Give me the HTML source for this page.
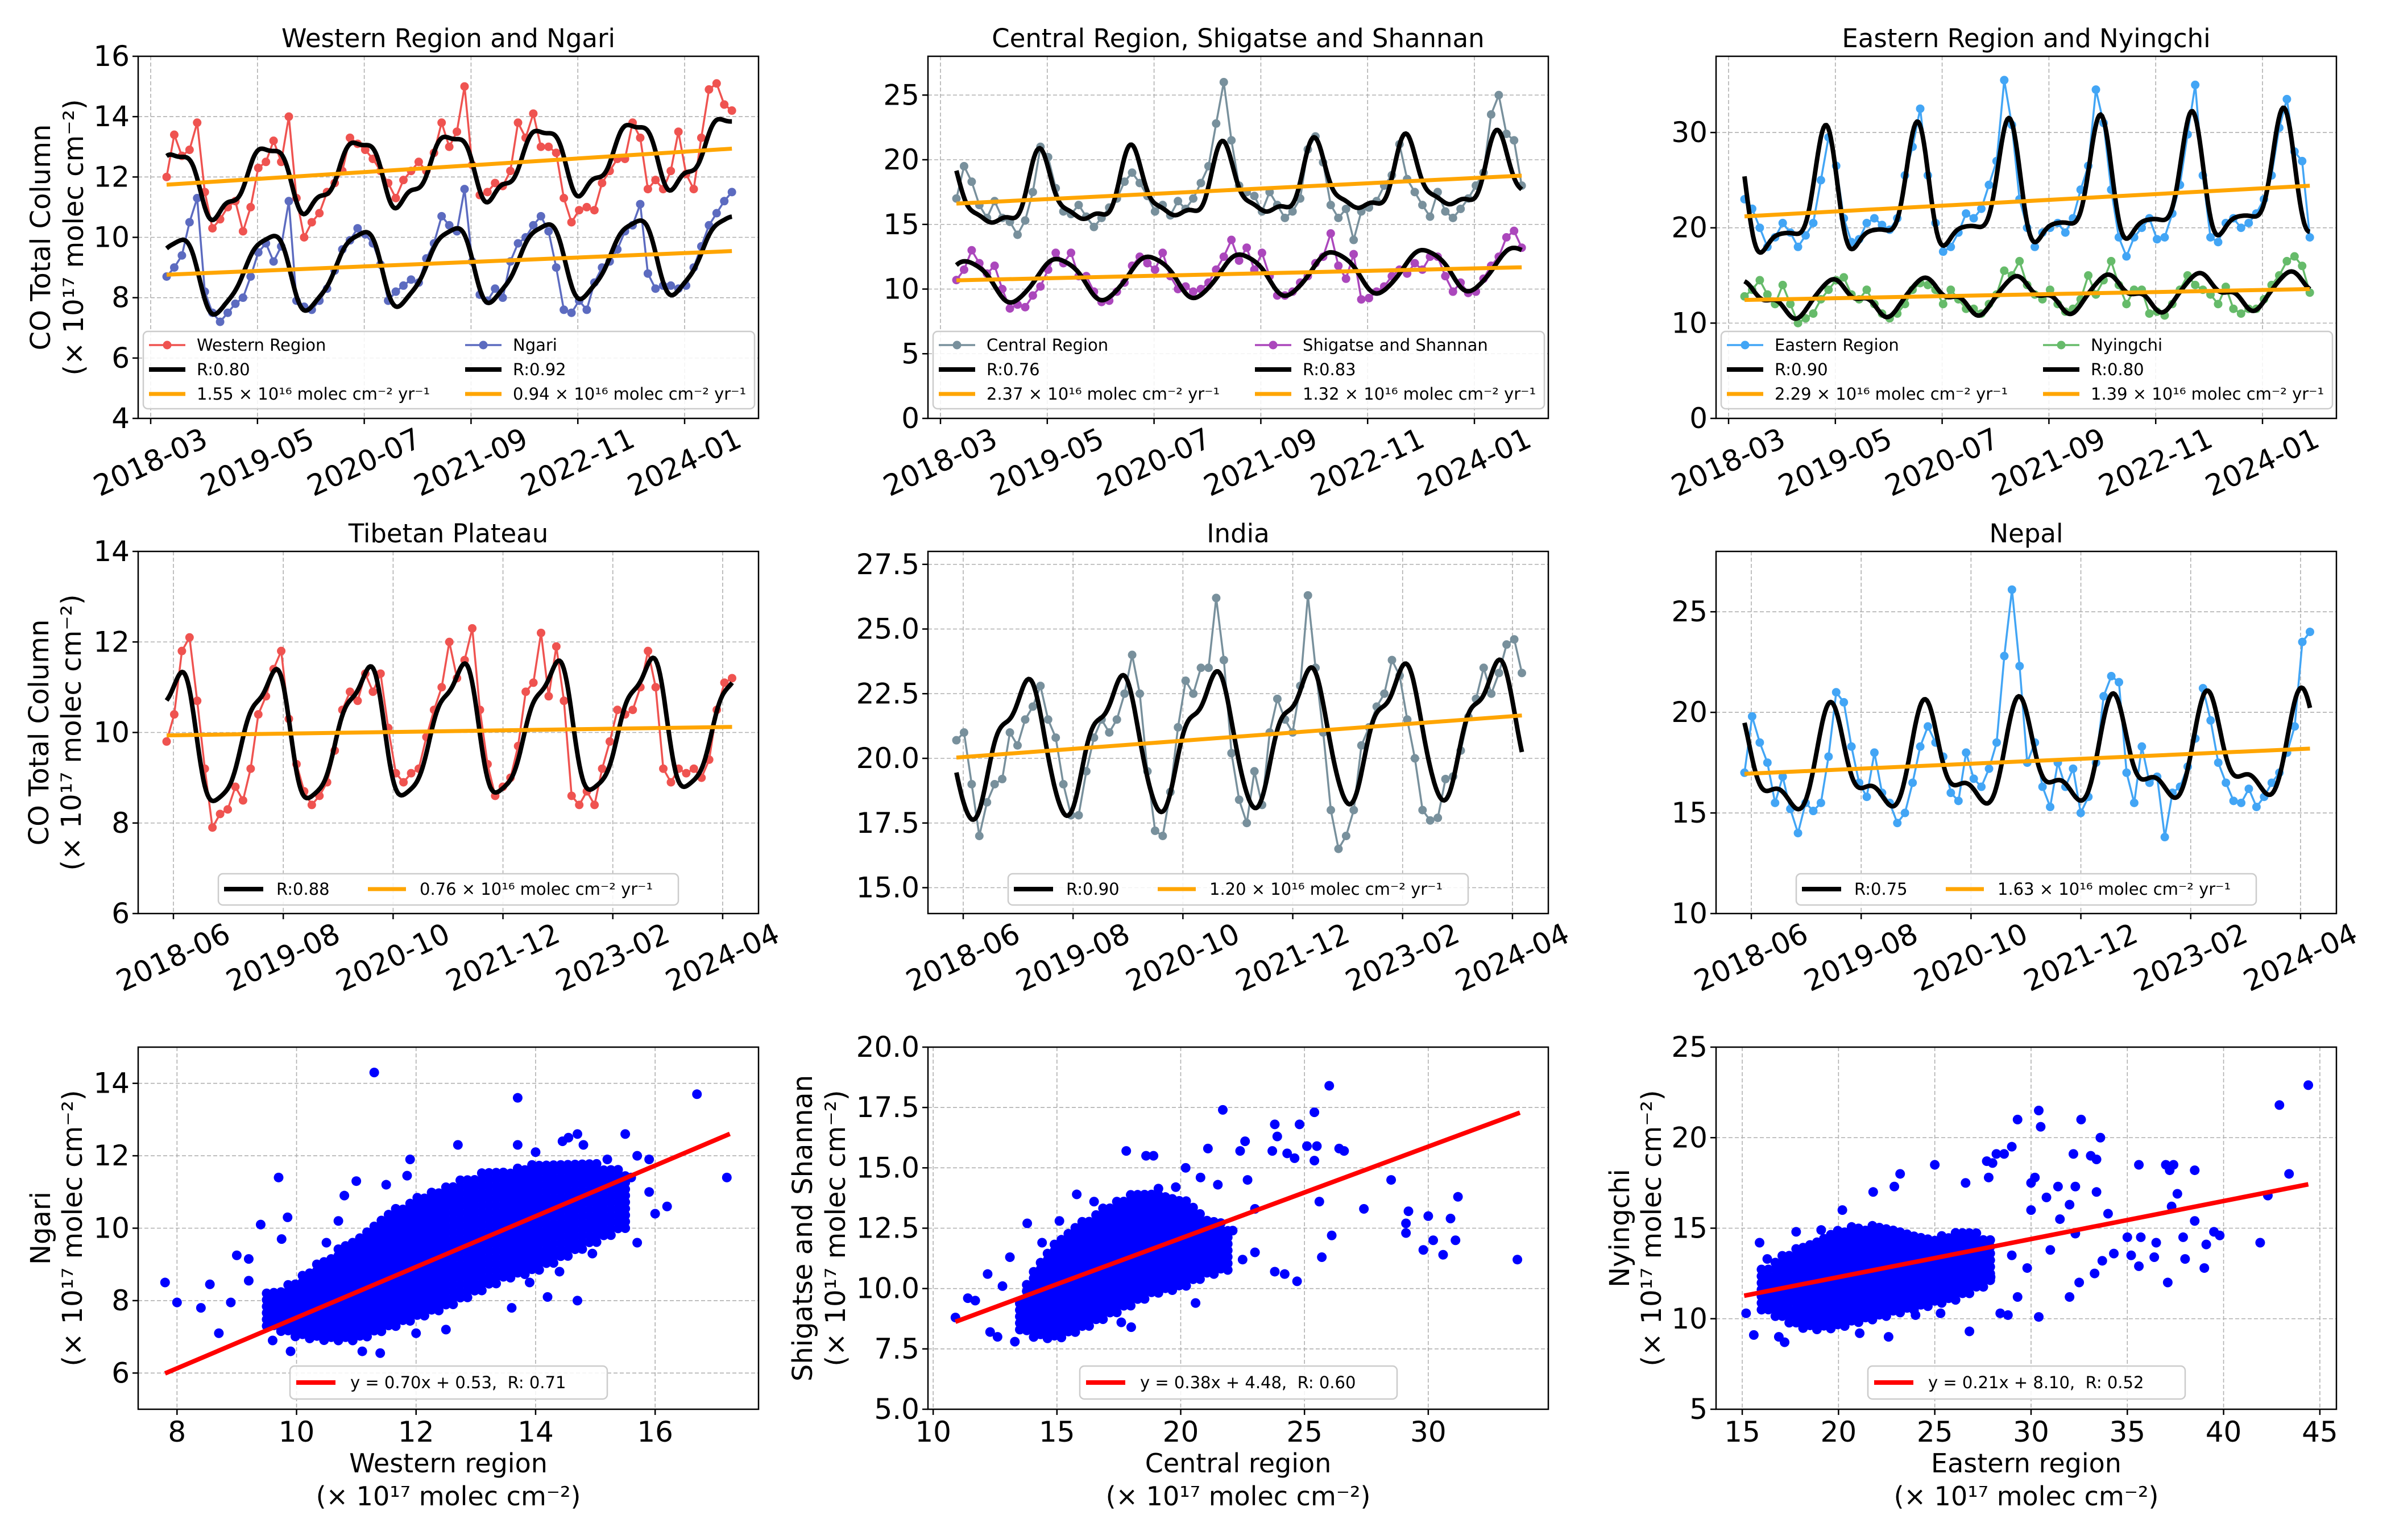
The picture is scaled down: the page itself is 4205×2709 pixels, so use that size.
<!DOCTYPE html>
<html>
<head>
<meta charset="utf-8">
<style>
html,body{margin:0;padding:0;background:#fff;}
svg{display:block;font-family:"DejaVu Sans","Liberation Sans",sans-serif;}
</style>
</head>
<body>
<svg id="chart" xmlns="http://www.w3.org/2000/svg" width="4205" height="2709" viewBox="0 0 4205 2709">
<rect x="0" y="0" width="4205" height="2709" fill="#ffffff"/>
</svg>
<script>
// ---------- DATA (monthly, May 2018 onward) ----------
const westernRegion = [12.0,13.4,12.7,12.9,13.8,11.5,10.3,10.6,
 11.0,11.2,10.2,11.0,12.3,12.5,13.2,12.5,14.0,11.3,10.0,10.5,
 10.8,11.5,11.8,12.2,13.3,13.1,12.9,12.6,12.2,11.8,11.3,11.9,
 12.2,12.5,12.2,12.8,13.8,13.0,13.5,15.0,12.4,11.4,11.5,11.8,
 11.7,12.2,13.8,13.3,14.1,13.0,13.0,12.8,11.3,10.5,10.9,11.0,
 10.9,11.8,12.2,12.6,12.6,13.8,13.3,11.6,11.9,11.6,12.2,13.5,
 12.1,11.6,13.3,14.9,15.1,14.4,14.2];
const ngari = [8.7,9.0,9.4,10.5,11.3,8.2,7.5,7.2,
 7.5,7.8,8.0,8.7,9.5,9.8,9.2,9.7,11.2,7.9,7.7,7.6,
 7.9,8.3,8.9,9.6,9.9,10.3,10.1,9.8,9.1,7.9,8.2,8.4,
 8.6,8.5,9.3,9.8,10.7,10.4,10.2,11.6,9.2,8.1,7.9,8.3,
 8.0,9.2,9.8,10.0,10.4,10.7,10.2,9.0,7.6,7.5,7.9,7.6,
 8.5,9.0,9.2,9.6,10.2,10.4,11.1,8.8,8.3,8.4,8.4,8.3,
 8.4,9.0,9.7,10.4,10.8,11.2,11.5];
const centralRegion = [17.0,19.5,18.3,16.5,15.5,16.8,15.5,15.2,
 14.2,15.3,17.5,21.0,20.2,17.8,16.0,15.8,16.5,15.6,14.8,15.5,
 16.3,17.0,18.3,19.0,18.2,17.2,16.0,16.5,15.7,16.8,16.2,17.0,
 18.2,19.5,22.8,26.0,21.5,18.0,17.5,17.2,16.0,17.5,16.5,15.5,
 16.0,17.0,20.8,21.8,19.8,16.5,15.5,16.2,13.8,16.0,16.3,16.8,
 18.0,18.8,21.2,18.5,17.5,16.5,15.6,17.5,16.0,15.5,16.2,17.0,
 18.0,19.0,23.5,25.0,22.0,21.5,18.0];
const shigatseShannan = [10.7,11.5,13.0,12.0,11.2,11.8,10.0,8.5,
 8.8,8.6,9.5,10.2,11.5,12.8,12.0,12.8,11.0,11.0,9.8,9.0,
 9.1,9.8,10.5,11.8,12.5,12.0,11.5,12.8,11.0,10.0,10.2,9.8,
 10.0,10.5,11.5,12.5,13.8,12.2,13.2,11.5,12.8,11.0,9.5,9.5,
 9.8,10.5,11.0,12.0,12.5,14.3,11.8,10.8,12.7,9.2,9.3,9.8,
 10.2,11.0,11.5,11.2,12.0,11.5,12.5,12.5,11.0,9.8,10.5,9.7,
 9.8,10.8,11.8,12.5,14.0,14.5,13.2];
const easternRegion = [23.0,22.0,20.0,18.0,19.0,20.5,19.5,18.0,
 19.2,20.5,25.0,29.5,26.5,21.0,18.5,18.8,20.5,21.0,20.3,19.8,
 21.0,25.5,28.5,32.5,25.5,20.5,17.5,18.0,19.5,21.5,21.0,22.0,
 24.5,27.0,35.5,30.8,23.0,20.0,18.0,19.5,20.0,20.5,19.5,21.0,
 24.0,26.5,34.5,31.0,24.0,19.0,17.0,19.0,20.0,21.0,18.8,19.0,
 21.5,24.5,29.8,35.0,25.5,19.0,18.5,20.5,21.0,20.0,20.5,21.5,
 23.0,25.5,30.5,33.5,28.0,27.0,19.0];
const nyingchi = [12.8,13.5,14.5,13.0,12.0,14.0,12.0,10.0,
 10.5,11.0,12.5,13.5,14.5,14.8,13.0,12.5,13.5,12.0,11.0,10.5,
 11.0,12.0,13.5,14.2,14.0,13.5,12.0,13.5,12.5,11.5,11.5,11.0,
 12.0,13.0,15.5,15.0,16.5,14.0,13.0,12.5,13.5,12.0,11.2,11.5,
 12.5,15.0,13.0,14.5,16.5,14.0,12.0,13.5,13.5,11.0,11.2,10.8,
 12.0,13.5,15.0,14.0,13.5,13.0,12.0,13.8,11.5,11.0,11.5,11.5,
 12.5,14.0,15.0,16.5,17.0,16.0,13.2];
const tibetanPlateau = [9.8,10.4,11.8,12.1,10.7,9.2,7.9,8.2,
 8.3,8.8,8.5,9.2,10.4,10.8,11.4,11.8,10.3,9.3,8.7,8.4,
 8.6,8.9,9.6,10.5,10.9,10.7,11.3,10.9,11.3,10.1,9.1,8.9,
 9.1,9.2,9.9,10.5,11.0,12.0,11.2,11.6,12.3,10.5,9.3,8.6,
 8.8,9.0,9.7,10.9,11.1,12.2,10.8,11.9,10.7,8.6,8.4,8.7,
 8.4,9.2,9.8,10.5,10.4,10.5,11.0,11.8,11.0,9.2,8.9,9.2,
 9.1,9.2,9.0,9.4,10.5,11.1,11.2];
const india = [20.7,21.0,19.0,17.0,18.3,19.0,19.2,21.0,
 20.5,21.5,22.0,22.8,21.5,20.8,19.0,17.8,17.8,19.5,20.8,21.5,
 21.0,21.5,22.5,24.0,22.5,19.5,17.2,17.0,18.7,21.2,23.0,22.5,
 23.5,23.5,26.2,23.8,20.2,18.4,17.5,19.5,18.2,21.0,22.3,21.5,
 21.0,22.8,26.3,23.5,21.0,18.0,16.5,17.0,18.0,20.5,21.2,22.0,
 22.5,23.8,23.2,21.5,20.0,18.0,17.6,17.7,19.2,19.3,20.3,21.6,
 22.3,23.5,22.5,23.3,24.4,24.6,23.3];
const nepal = [17.0,19.8,18.5,17.5,15.5,16.8,15.2,14.0,
 15.5,15.1,15.5,17.8,21.0,20.5,18.3,16.5,15.8,18.0,16.0,15.5,
 14.5,15.0,16.5,18.3,19.3,18.5,17.8,16.0,15.6,18.0,16.7,16.3,
 17.2,18.5,22.8,26.1,22.3,17.5,18.5,16.3,15.3,17.5,16.3,17.2,
 15.0,15.8,17.5,20.8,21.8,21.5,17.0,15.5,18.3,16.5,16.8,13.8,
 16.0,16.3,17.3,18.7,21.2,19.6,17.5,16.5,15.6,15.5,16.2,15.3,
 15.8,16.5,17.0,18.0,19.3,23.5,24.0];

// tick labels
const row1DateLabels = ['2018-03','2019-05','2020-07','2021-09','2022-11','2024-01'];
const row1DateMonths = [2,16,30,44,58,72];
const row2DateLabels = ['2018-06','2019-08','2020-10','2021-12','2023-02','2024-04'];
const row2DateMonths = [5,19,33,47,61,75];

// scatter data: dense-core bands + individual points
const westBandX  = [9.5,10,10.5,11,11.5,12,12.5,13,13.5,14,14.5,15,15.5];
const westBandLo = [7.3,7.0,6.9,6.9,7.2,7.5,7.8,8.2,8.6,8.8,9.2,9.6,10.0];
const westBandHi = [8.2,8.6,9.2,9.8,10.4,10.9,11.2,11.5,11.6,11.8,11.9,11.8,11.6];
const westPtsX = [11.3,13.7,16.7,17.2,7.8,8.0,8.4,8.55,8.7,8.9,9.0,9.2,9.2,9.4,9.7,9.75,9.85,9.6,9.9,11.0,11.5,10.8,11.9,11.85,12.7,13.7,14.0,14.45,14.55,14.7,14.8,15.5,15.7,15.9,16.2,16.0,15.7,14.95,14.7,14.2,13.6,12.5,12.0,11.4,11.1,13.9,14.4,15.9,15.6,15.2,14.9,10.5,10.7];
const westPtsY = [14.3,13.6,13.7,11.4,8.5,7.95,7.8,8.45,7.1,7.95,9.25,9.15,8.55,10.1,11.4,9.7,10.3,6.9,6.6,11.3,11.2,10.9,11.9,11.45,12.3,12.3,12.1,12.4,12.5,12.6,12.3,12.6,12.0,11.9,10.6,10.4,9.6,9.3,8.0,8.1,7.8,7.2,7.1,6.55,6.6,8.5,8.8,11.0,11.4,11.9,11.7,9.6,10.2];
const centBandX  = [13.5,14,15,16,17,18,19,20,21,22];
const centBandLo = [8.3,8.0,7.9,8.3,8.8,9.3,9.8,10.0,10.5,10.8];
const centBandHi = [9.5,10.8,12.0,12.8,13.5,14.0,14.2,13.8,13.0,12.6];
const centPtsX = [26.0,21.7,25.4,23.8,24.8,23.9,22.6,26.4,26.6,25.1,25.5,21.1,17.8,18.6,18.9,22.4,24.3,23.7,24.6,25.4,28.5,27.4,29.2,30.0,29.1,29.1,30.2,29.8,30.6,31.1,30.9,31.2,33.6,26.1,25.7,25.6,24.7,24.2,23.8,20.6,18.0,17.6,13.8,15.1,14.4,13.1,12.2,12.8,11.4,11.7,10.9,12.3,12.6,13.3,15.8,16.5,17.0,20.5,22.5,23.0,21.6,22.1,23.0,21.5,22.7,19.8,20.2,20.8];
const centPtsY = [18.4,17.4,17.3,16.8,16.8,16.3,16.1,15.8,15.7,15.9,15.9,15.8,15.7,15.5,15.5,15.7,15.6,15.7,15.4,15.3,14.5,13.3,13.2,13.0,12.7,12.3,12.0,11.6,11.4,12.0,12.9,13.8,11.2,12.2,11.3,13.6,10.3,10.6,10.7,9.4,8.4,8.6,12.7,12.8,11.9,11.3,10.6,10.1,9.6,9.5,8.8,8.2,8.0,7.8,13.9,13.6,12.9,12.2,11.2,11.5,11.5,12.4,13.3,14.3,14.5,14.2,15.0,14.6];
const eastBandX  = [16,17,18,19,20,21,22,23,24,25,26,27,28];
const eastBandLo = [10.5,10.0,9.5,9.4,9.5,9.8,10.0,10.3,10.5,10.8,11.0,11.5,12.0];
const eastBandHi = [12.8,13.5,14.0,14.5,15.0,15.2,15.2,15.0,14.8,14.5,14.8,14.8,14.5];
const eastPtsX = [44.4,42.9,43.4,42.3,41.9,39.1,39.0,38.0,38.5,37.0,37.4,37.2,37.9,39.5,39.8,38.5,37.3,37.6,36.5,35.7,35.2,35.6,37.1,35.6,34.0,33.6,32.6,30.4,30.5,29.3,33.4,33.1,32.2,29.0,28.6,28.2,27.7,25.0,23.2,22.9,21.8,28.0,26.6,27.8,30.2,30.0,32.3,31.4,33.4,30.8,32.0,30.0,31.5,32.3,33.7,33.3,32.5,32.0,30.4,29.3,28.8,28.4,26.8,25.3,24.0,22.6,21.1,17.2,16.9,15.6,15.2,15.9,17.8,19.1,20.2,16.3,26.6,27.9,29.0,29.8,31.0,34.3,35.0,36.4];
const eastPtsY = [22.9,21.8,18.0,16.8,14.2,14.1,12.8,13.3,18.2,18.5,18.5,18.2,14.5,14.8,14.6,15.4,16.2,16.9,14.2,14.5,13.5,12.9,12.0,18.5,15.8,20.0,21.0,21.5,20.6,21.0,18.8,19.0,19.1,19.5,19.1,19.1,18.7,18.5,18.0,17.3,17.0,18.6,17.5,17.8,17.8,17.5,17.3,17.3,17.0,16.7,16.3,16.0,15.5,14.7,13.2,12.5,12.0,11.2,10.1,11.2,10.2,10.3,9.3,10.3,10.2,9.0,9.2,8.7,9.0,9.1,10.3,14.2,14.8,14.9,16.0,13.3,11.8,12.3,13.5,12.8,13.8,13.6,14.5,13.4];
const scatterSlopes = [0.70,0.38,0.21];
const scatterIntercepts = [0.53,4.48,8.10];

// ---------- helpers ----------
const NS='http://www.w3.org/2000/svg';
const svg=document.getElementById('chart');
function mk(tag, attrs, parent, name, inter){
  const el=document.createElementNS(NS,tag);
  for(const k in attrs) el.setAttribute(k,attrs[k]);
  
  
  parent.appendChild(el);
  return el;
}
function txt(parent,x,y,s,size,name,extra){
  const a={x:x,y:y,'font-size':size,fill:'#000'};
  if(extra) for(const k in extra) a[k]=extra[k];
  const t=mk('text',a,parent,name,false);
  t.textContent=s;
  return t;
}
const W=1091, H=637;
function makeAxes(left,top,xmin,xmax,ymin,ymax,name){
  const g=mk('g',{},svg,name,false);
  return {g:g,left:left,top:top,
    x:v=>left+(v-xmin)/(xmax-xmin)*W,
    y:v=>top+H-(v-ymin)/(ymax-ymin)*H};
}
function gridAndTicks(ax,xt,xl,yt,yl,rotate){
  const gg=mk('g',{},ax.g,'grid',false);
  xt.forEach(v=>{const x=ax.x(v);
    mk('line',{x1:x,x2:x,y1:ax.top,y2:ax.top+H,stroke:'#b0b0b0','stroke-width':1.6,'stroke-dasharray':'7,4'},gg,'x-gridline',false);});
  yt.forEach(v=>{const y=ax.y(v);
    mk('line',{x1:ax.left,x2:ax.left+W,y1:y,y2:y,stroke:'#b0b0b0','stroke-width':1.6,'stroke-dasharray':'7,4'},gg,'y-gridline',false);});
  const tg=mk('g',{},ax.g,'ticks',false);
  xt.forEach((v,i)=>{const x=ax.x(v), b=ax.top+H;
    mk('line',{x1:x,x2:x,y1:b,y2:b+10,stroke:'#000','stroke-width':2.5},tg,'x-tick',false);
    if(rotate){
      txt(tg,x,b+78,xl[i],51,'x-tick-label',{'text-anchor':'middle','dominant-baseline':'central',transform:'rotate(-25 '+x+' '+(b+78)+')'});
    } else {
      txt(tg,x,b+40,xl[i],50,'x-tick-label',{'text-anchor':'middle','dominant-baseline':'central'});
    }});
  yt.forEach((v,i)=>{const y=ax.y(v);
    mk('line',{x1:ax.left-10,x2:ax.left,y1:y,y2:y,stroke:'#000','stroke-width':2.5},tg,'y-tick',false);
    txt(tg,ax.left-15,y,yl[i],50,'y-tick-label',{'text-anchor':'end','dominant-baseline':'central'});});
}
function frame(ax){
  mk('rect',{x:ax.left,y:ax.top,width:W,height:H,fill:'none',stroke:'#000','stroke-width':2.5},ax.g,'axes-frame',false);
}
function title(ax,s){
  txt(ax.g,ax.left+W/2,ax.top-16,s,45,'panel-title',{'text-anchor':'middle'});
}
function ylabel(ax,l1,l2,o1,o2){
  const cy=ax.top+H/2;
  [[l1,o1,'y-axis-title'],[l2,o2,'y-axis-unit']].forEach(a=>{
    const x=ax.left+a[1];
    txt(ax.g,x,cy,a[0],48,a[2],{'text-anchor':'middle','dominant-baseline':'central',transform:'rotate(-90 '+x+' '+cy+')'});
  });
}
function times(n,start,end){const r=[];for(let i=0;i<n;i++)r.push(start+i*(end-start)/(n-1));return r;}
function solve(A,b){
  const n=b.length;const M=A.map((r,i)=>r.concat([b[i]]));
  for(let c=0;c<n;c++){let p=c;for(let r=c+1;r<n;r++)if(Math.abs(M[r][c])>Math.abs(M[p][c]))p=r;
    const t=M[c];M[c]=M[p];M[p]=t;
    for(let r=0;r<n;r++){if(r===c)continue;const f=M[r][c]/M[c][c];for(let k=c;k<=n;k++)M[r][k]-=f*M[c][k];}}
  return M.map((r,i)=>r[n]/r[i]);
}
function seasonalFit(ts,vs){
  const K=3;
  const row=t=>{const r=[1,(t-40)/40];for(let k=1;k<=K;k++){r.push(Math.cos(2*Math.PI*k*t/12));r.push(Math.sin(2*Math.PI*k*t/12));}return r;};
  const p=2+2*K;const A=[];const b=[];
  for(let i=0;i<p;i++){A.push(new Array(p).fill(0));b.push(0);}
  ts.forEach((t,j)=>{const r=row(t);for(let i=0;i<p;i++){b[i]+=r[i]*vs[j];for(let k=0;k<p;k++)A[i][k]+=r[i]*r[k];}});
  const beta=solve(A,b);
  return t=>{const r=row(t);let s=0;for(let i=0;i<p;i++)s+=r[i]*beta[i];return s;};
}
function linFit(ts,vs){
  const n=ts.length;let mx=0,my=0;ts.forEach((t,i)=>{mx+=t;my+=vs[i];});mx/=n;my/=n;
  let sxy=0,sxx=0;ts.forEach((t,i)=>{sxy+=(t-mx)*(vs[i]-my);sxx+=(t-mx)*(t-mx);});
  const m=sxy/sxx;return t=>my+m*(t-mx);
}
function drawSeries(ax,ts,vs,color,name){
  const g=mk('g',{},ax.g,name,false);
  let d='';ts.forEach((t,i)=>{d+=(i?'L':'M')+ax.x(t).toFixed(1)+' '+ax.y(vs[i]).toFixed(1);});
  mk('path',{d:d,fill:'none',stroke:color,'stroke-width':3.5,'stroke-linejoin':'round'},g,name+'-line',false);
  ts.forEach((t,i)=>{
    mk('circle',{cx:ax.x(t),cy:ax.y(vs[i]),r:7.5,fill:color},g,name+'-point',false);
  });
}
function drawFits(ax,ts,vs,name){
  const f=seasonalFit(ts,vs);const L=linFit(ts,vs);
  const t0=ts[0],t1=ts[ts.length-1];let d='';
  for(let i=0;i<=400;i++){const t=t0+(t1-t0)*i/400;d+=(i?'L':'M')+ax.x(t).toFixed(1)+' '+ax.y(f(t)).toFixed(1);}
  mk('path',{d:d,fill:'none',stroke:'#000','stroke-width':8,'stroke-linejoin':'round'},ax.g,name+'-fit-curve',false);
  return L;
}
function drawTrend(ax,ts,L,name){
  const t0=ts[0],t1=ts[ts.length-1];
  mk('line',{x1:ax.x(t0),y1:ax.y(L(t0)),x2:ax.x(t1),y2:ax.y(L(t1)),stroke:'#ffa500','stroke-width':7},ax.g,name+'-trend-line',false);
}
function handle(g,x1,x2,y,kind,color,name){
  if(kind==='series'){
    mk('line',{x1:x1,x2:x2,y1:y,y2:y,stroke:color,'stroke-width':3.5},g,name+'-handle',false);
    mk('circle',{cx:(x1+x2)/2,cy:y,r:7.5,fill:color},g,name+'-handle-marker',false);
  } else {
    mk('line',{x1:x1,x2:x2,y1:y,y2:y,stroke:color,'stroke-width':kind==='fit'?8:7},g,name+'-handle',false);
  }
}
function legendBox(ax,x1,x2,y1,y2){
  const g=mk('g',{},ax.g,'legend',false);
  mk('rect',{x:ax.left+x1,y:ax.top+y1,width:x2-x1,height:y2-y1,rx:8,fill:'#ffffff','fill-opacity':0.85,stroke:'#cccccc','stroke-width':2.5},g,'legend-box',false);
  return g;
}
function legend6(ax,cols){
  const g=legendBox(ax,9,1084,484,620);
  const ys=[508,551,594];const hx=[[19,83,103],[575,639,659]];
  cols.forEach((col,c)=>{col.forEach((it,r)=>{
    const y=ax.top+ys[r];
    handle(g,ax.left+hx[c][0],ax.left+hx[c][1],y,it[0],it[1],'legend-entry');
    txt(g,ax.left+hx[c][2],y,it[2],29,'legend-label',{'dominant-baseline':'central'});
  });});
}
function legend2(ax,r,rate){
  const g=legendBox(ax,141,950,567,622);const y=ax.top+594;
  handle(g,ax.left+151,ax.left+220,y,'fit','#000','legend-entry');
  txt(g,ax.left+243,y,r,29,'legend-label',{'dominant-baseline':'central'});
  handle(g,ax.left+404,ax.left+471,y,'trend','#ffa500','legend-entry');
  txt(g,ax.left+495,y,rate,29,'legend-label',{'dominant-baseline':'central'});
}

// ---------- layout ----------
const lefts=[243,1632,3018], tops=[99,970,1842];
const N=westernRegion.length;
const tRow1=times(N,4.09,78.2);
const tRow2=times(N,4.13,76.2);
const rate=s=>s+' \u00d7 10\u00b9\u2076 molec cm\u207b\u00b2 yr\u207b\u00b9';

function timePanel(col,row,ymin,ymax,yt,yl,ttl,name){
  const dom=row===0?[0.36,81.69]:[0.507,79.57];
  const ax=makeAxes(lefts[col],tops[row],dom[0],dom[1],ymin,ymax,name);
  gridAndTicks(ax,row===0?row1DateMonths:row2DateMonths,row===0?row1DateLabels:row2DateLabels,yt,yl,true);
  title(ax,ttl);
  return ax;
}
function rng(a,b,s){const r=[];for(let v=a;v<=b+1e-9;v+=s)r.push(+v.toFixed(2));return r;}

// Row 1
const pairs=[
  [0,[4,16],rng(4,16,2),'Western Region and Ngari',westernRegion,ngari,'#ef5350','#5c6bc0','Western Region','Ngari',['R:0.80','R:0.92'],['1.55','0.94']],
  [1,[0,28],rng(0,25,5),'Central Region, Shigatse and Shannan',centralRegion,shigatseShannan,'#78909c','#ab47bc','Central Region','Shigatse and Shannan',['R:0.76','R:0.83'],['2.37','1.32']],
  [2,[0,38],rng(0,30,10),'Eastern Region and Nyingchi',easternRegion,nyingchi,'#42a5f5','#66bb6a','Eastern Region','Nyingchi',['R:0.90','R:0.80'],['2.29','1.39']]
];
pairs.forEach(p=>{
  const ax=timePanel(p[0],0,p[1][0],p[1][1],p[2],p[2].map(String),p[3],'panel-'+p[8].toLowerCase().replace(/ /g,'-'));
  drawSeries(ax,tRow1,p[4],p[6],'series-a');
  drawSeries(ax,tRow1,p[5],p[7],'series-b');
  const La=drawFits(ax,tRow1,p[4],'series-a');
  const Lb=drawFits(ax,tRow1,p[5],'series-b');
  drawTrend(ax,tRow1,La,'series-a');
  drawTrend(ax,tRow1,Lb,'series-b');
  legend6(ax,[[['series',p[6],p[8]],['fit','#000',p[10][0]],['trend','#ffa500',rate(p[11][0])]],
              [['series',p[7],p[9]],['fit','#000',p[10][1]],['trend','#ffa500',rate(p[11][1])]]]);
  frame(ax);
  if(p[0]===0) ylabel(ax,'CO Total Column','(\u00d7 10\u00b9\u2077 molec cm\u207b\u00b2)',-171,-113);
});

// Row 2
const singles=[
  [0,[6,14],rng(6,14,2),null,'Tibetan Plateau',tibetanPlateau,'#ef5350','R:0.88','0.76'],
  [1,[14,28],rng(15,27.5,2.5),1,'India',india,'#78909c','R:0.90','1.20'],
  [2,[10,28],rng(10,25,5),null,'Nepal',nepal,'#42a5f5','R:0.75','1.63']
];
singles.forEach(p=>{
  const yl=p[2].map(v=>p[3]?v.toFixed(1):String(v));
  const ax=timePanel(p[0],1,p[1][0],p[1][1],p[2],yl,p[4],'panel-'+p[4].toLowerCase().replace(/ /g,'-'));
  drawSeries(ax,tRow2,p[5],p[6],'series');
  const L=drawFits(ax,tRow2,p[5],'series');
  drawTrend(ax,tRow2,L,'series');
  legend2(ax,p[7],rate(p[8]));
  frame(ax);
  if(p[0]===0) ylabel(ax,'CO Total Column','(\u00d7 10\u00b9\u2077 molec cm\u207b\u00b2)',-174,-117);
});

// Row 3 scatter
const scat=[
  [0,[7.35,17.73],[5,15],rng(8,16,2),rng(6,14,2),0,westBandX,westBandLo,westBandHi,westPtsX,westPtsY,0.12,0.18,[7.8,17.25],'Western region','Ngari',-171,-115],
  [1,[9.79,34.85],[5,20],rng(10,30,5),rng(5,20,2.5),1,centBandX,centBandLo,centBandHi,centPtsX,centPtsY,0.28,0.27,[10.9,33.7],'Central region','Shigatse and Shannan',-220,-162],
  [2,[13.64,45.86],[5,25],rng(15,45,5),rng(5,25,5),0,eastBandX,eastBandLo,eastBandHi,eastPtsX,eastPtsY,0.36,0.37,[15.1,44.4],'Eastern region','Nyingchi',-169,-113]
];
scat.forEach((p,k)=>{
  const ax=makeAxes(lefts[p[0]],tops[2],p[1][0],p[1][1],p[2][0],p[2][1],'panel-scatter-'+p[15].toLowerCase().replace(/ /g,'-'));
  gridAndTicks(ax,p[3],p[3].map(String),p[4],p[4].map(v=>p[5]?v.toFixed(1):String(v)),false);
  const g=mk('g',{},ax.g,'scatter-points',false);
  const bx=p[6],lo=p[7],hi=p[8];
  let col=0;
  for(let x=bx[0];x<=bx[bx.length-1]+1e-9;x+=p[11]){
    let j=0;while(j<bx.length-2&&x>bx[j+1])j++;
    const f=(x-bx[j])/(bx[j+1]-bx[j]);
    const l=lo[j]+f*(lo[j+1]-lo[j]), h=hi[j]+f*(hi[j+1]-hi[j]);
    const off=(col%2)*p[12]*0.5; col++;
    for(let y=l+off;y<=h+1e-9;y+=p[12]){
      mk('circle',{cx:ax.x(x),cy:ax.y(y),r:8.5,fill:'#0000ff'},g,'scatter-point',false);
    }
  }
  p[9].forEach((x,i)=>{
    mk('circle',{cx:ax.x(x),cy:ax.y(p[10][i]),r:8.5,fill:'#0000ff'},g,'scatter-point',false);
  });
  const m=scatterSlopes[k],c=scatterIntercepts[k];
  mk('line',{x1:ax.x(p[13][0]),y1:ax.y(m*p[13][0]+c),x2:ax.x(p[13][1]),y2:ax.y(m*p[13][1]+c),stroke:'#ff0000','stroke-width':8},ax.g,'regression-line',false);
  const lg=legendBox(ax,267,825,561,619);const y=ax.top+590;
  handle(lg,ax.left+278,ax.left+347,y,'fit','#ff0000','legend-entry');
  const rv=['0.71','0.60','0.52'][k];
  txt(lg,ax.left+373,y,'y = '+m.toFixed(2)+'x + '+c.toFixed(2)+',  R: '+rv,29,'legend-label',{'dominant-baseline':'central',style:'white-space:pre'});
  frame(ax);
  const cx=ax.left+W/2;
  txt(ax.g,cx,2574,p[14],46,'x-axis-title',{'text-anchor':'middle','dominant-baseline':'central'});
  txt(ax.g,cx,2632,'(\u00d7 10\u00b9\u2077 molec cm\u207b\u00b2)',46,'x-axis-unit',{'text-anchor':'middle','dominant-baseline':'central'});
  ylabel(ax,p[15],'(\u00d7 10\u00b9\u2077 molec cm\u207b\u00b2)',p[16],p[17]);
});
</script>
</body>
</html>
